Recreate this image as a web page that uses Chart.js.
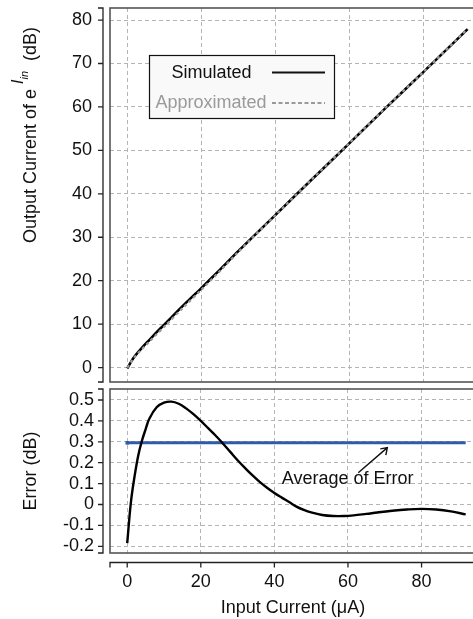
<!DOCTYPE html>
<html>
<head>
<meta charset="utf-8">
<script src="https://cdn.jsdelivr.net/npm/chart.js@4.4.0/dist/chart.umd.min.js"></script>
<style>
  html, body { margin: 0; padding: 0; background: #fff; overflow: hidden; }
  #top { position: absolute; left: 0; top: 0; width: 480px; height: 390px; }
  #bottom { position: absolute; left: 0; top: 385px; width: 480px; height: 234px; }
</style>
</head>
<body>
<div id="top"><canvas id="outChart"></canvas></div>
<div id="bottom"><canvas id="errChart"></canvas></div>
<script>
// input current (uA) for the upper panel
var xOut = [0, 1, 2, 4, 6, 8, 10, 15, 20, 25, 30, 40, 50, 60, 70, 80, 92];
var simulated = [-0.2, 1.3, 2.6, 4.6, 6.4, 8.2, 9.9, 14.2, 18.3, 22.5, 26.8, 35.1, 43.4, 51.6, 59.9, 68.0, 77.9];
var approximated = [-0.02, 1.25, 2.47, 4.29, 5.98, 7.73, 9.41, 13.73, 17.89, 22.19, 26.6, 35.05, 43.44, 51.65, 59.94, 68.02, 77.95];

// error panel
var xErr = [0, 1, 2, 3, 4, 5, 6, 8, 10, 12, 14, 16, 18, 20, 22, 24, 26, 28, 30, 32, 34, 36, 38, 40, 42, 44, 46, 48, 50, 53, 56, 59, 62, 65, 68, 72, 76, 80, 84, 88, 92];
var error = [-0.185, 0.01, 0.135, 0.235, 0.305, 0.36, 0.41, 0.465, 0.487, 0.492, 0.482, 0.46, 0.432, 0.4, 0.365, 0.33, 0.292, 0.252, 0.212, 0.175, 0.14, 0.108, 0.08, 0.055, 0.033, 0.012, -0.01, -0.026, -0.038, -0.05, -0.055, -0.055, -0.051, -0.045, -0.038, -0.03, -0.024, -0.021, -0.024, -0.033, -0.047];
var avgX = [0, 92];
var avgError = [0.295, 0.295];

var FONT = "'Liberation Sans', Arial, Helvetica, sans-serif";
Chart.defaults.font.family = FONT;
Chart.defaults.font.size = 18;
Chart.defaults.color = '#111';

function pts(xs, ys) {
    return xs.map(function (x, i) { return { x: x, y: ys[i] }; });
}

var gridStyle = { color: '#b4b4b4', lineWidth: 1, drawTicks: false };
var dash = [4, 3];

function noPad(s) {
    s.paddingTop = 0; s.paddingBottom = 0;
    s.paddingLeft = 0; s.paddingRight = 0;
}

// box around plot + R-like offset axes
var frame = {
    id: 'frame',
    afterDraw: function (chart, args, opts) {
        var c = chart.ctx, a = chart.chartArea;
        c.save();
        c.strokeStyle = '#555';
        c.lineWidth = 1.6;
        c.strokeRect(a.left, a.top, a.right - a.left, a.bottom - a.top);

        // y axis, set off to the left
        var ys = chart.scales.y, ax = a.left - 7;
        c.strokeStyle = '#222';
        c.lineWidth = 1.3;
        c.beginPath();
        c.moveTo(ax - 5, a.top); c.lineTo(ax, a.top);
        c.lineTo(ax, a.bottom); c.lineTo(ax - 5, a.bottom);
        ys.ticks.forEach(function (t) {
            var py = ys.getPixelForValue(t.value);
            c.moveTo(ax - 5, py); c.lineTo(ax, py);
        });
        c.stroke();

        if (opts.xAxis) {
            var xs = chart.scales.x, ay = a.bottom + 9.5;
            c.beginPath();
            c.moveTo(a.left, ay + 5); c.lineTo(a.left, ay); c.lineTo(a.right, ay);
            xs.ticks.forEach(function (t) {
                var px = xs.getPixelForValue(t.value);
                c.moveTo(px, ay); c.lineTo(px, ay + 5);
            });
            c.stroke();
        }

        // rotated y title
        c.fillStyle = '#111';
        c.translate(opts.titleX, (a.top + a.bottom) / 2 + opts.titleShift);
        c.rotate(-Math.PI / 2);
        c.textBaseline = 'alphabetic';
        var parts = opts.title;
        var total = 0;
        parts.forEach(function (p) { c.font = p.font; total += c.measureText(p.t).width; });
        var x = -total / 2;
        parts.forEach(function (p) {
            c.font = p.font;
            c.fillText(p.t, x, -(p.rise || 0));
            x += c.measureText(p.t).width;
        });
        c.restore();
    }
};

// legend box in upper panel
var legendBox = {
    id: 'legendBox',
    afterDraw: function (chart) {
        var c = chart.ctx;
        c.save();
        c.fillStyle = '#f9f9f9';
        c.fillRect(149.5, 55.5, 185, 63);
        c.strokeStyle = '#111';
        c.lineWidth = 1.2;
        c.strokeRect(149.5, 55.5, 185, 63);
        c.font = '18px ' + FONT;
        c.textBaseline = 'middle';
        c.fillStyle = '#111';
        c.fillText('Simulated', 171.5, 73);
        c.fillStyle = '#9a9a9a';
        c.fillText('Approximated', 155.5, 103.5);
        c.lineWidth = 2.2;
        c.strokeStyle = '#111';
        c.beginPath(); c.moveTo(272, 72.5); c.lineTo(325, 72.5); c.stroke();
        c.strokeStyle = '#9a9a9a';
        c.lineWidth = 1.8;
        c.setLineDash([4, 2.5]);
        c.beginPath(); c.moveTo(272, 103); c.lineTo(325, 103); c.stroke();
        c.restore();
    }
};

// note + arrow in error panel
var note = {
    id: 'note',
    afterDraw: function (chart) {
        var c = chart.ctx, xs = chart.scales.x, ys = chart.scales.y;
        var x0 = xs.getPixelForValue(62.8), y0 = ys.getPixelForValue(0.152);
        var x1 = xs.getPixelForValue(70.7), y1 = ys.getPixelForValue(0.272);
        c.save();
        c.strokeStyle = '#111';
        c.lineWidth = 1.4;
        c.beginPath();
        c.moveTo(x0, y0); c.lineTo(x1, y1);
        c.moveTo(x1 - 7, y1 + 1.2); c.lineTo(x1, y1); c.lineTo(x1 - 1.5, y1 + 7.5);
        c.stroke();
        c.font = '18px ' + FONT;
        c.fillStyle = '#111';
        c.textBaseline = 'alphabetic';
        c.fillText('Average of Error', xs.getPixelForValue(42.0), ys.getPixelForValue(0.1));
        c.restore();
    }
};

var xCommon = {
    type: 'linear',
    min: -4.68,
    max: 94.8,
    border: { display: false, dash: dash },
    grid: gridStyle
};

new Chart(document.getElementById('outChart'), {
    type: 'line',
    data: {
        datasets: [{
            label: 'Approximated',
            data: pts(xOut, approximated),
            borderColor: '#9a9a9a',
            borderWidth: 2.2,
            borderDash: [3, 3],
            pointRadius: 0,
            tension: 0.3,
            order: 0
        }, {
            label: 'Simulated',
            data: pts(xOut, simulated),
            borderColor: '#000',
            borderWidth: 2.6,
            pointRadius: 0,
            tension: 0.3,
            order: 1
        }]
    },
    options: {
        responsive: true,
        maintainAspectRatio: false,
        animation: false,
        layout: { padding: { top: 8, bottom: 8, left: 0, right: 2 } },
        plugins: {
            legend: { display: false },
            tooltip: { enabled: false },
            frame: {
                titleX: 36, titleShift: -60,
                title: [
                    { t: 'Output Current of e', font: '18px ' + FONT },
                    { t: ' I', font: 'italic 17px ' + FONT, rise: 13 },
                    { t: 'in', font: 'italic 11px ' + FONT, rise: 8 },
                    { t: '  (dB)', font: '18px ' + FONT }
                ]
            }
        },
        scales: {
            x: Object.assign({}, xCommon, {
                ticks: { stepSize: 20, includeBounds: false, display: false },
                afterFit: function (s) { s.height = 0; noPad(s); }
            }),
            y: {
                min: -3.32,
                max: 82.77,
                ticks: { stepSize: 10, includeBounds: false, padding: 18, autoSkip: false },
                border: { display: false, dash: dash },
                grid: gridStyle,
                afterFit: function (s) { s.width = 110; noPad(s); }
            }
        }
    },
    plugins: [frame, legendBox]
});

new Chart(document.getElementById('errChart'), {
    type: 'line',
    data: {
        datasets: [{
            label: 'Average',
            data: pts(avgX, avgError),
            borderColor: '#2f5ba8',
            borderWidth: 3,
            pointRadius: [2.5, 0],
            pointStyle: 'rect',
            pointBackgroundColor: '#2f5ba8',
            pointBorderWidth: 0,
            order: 1
        }, {
            label: 'Error',
            data: pts(xErr, error),
            borderColor: '#000',
            borderWidth: 2.4,
            pointRadius: 0,
            tension: 0.4,
            order: 0
        }]
    },
    options: {
        responsive: true,
        maintainAspectRatio: false,
        animation: false,
        layout: { padding: { top: 4, bottom: 0, left: 0, right: 2 } },
        plugins: {
            legend: { display: false },
            tooltip: { enabled: false },
            frame: {
                xAxis: true,
                titleX: 36, titleShift: 0,
                title: [{ t: 'Error (dB)', font: '18px ' + FONT }]
            }
        },
        scales: {
            x: Object.assign({}, xCommon, {
                ticks: { stepSize: 20, includeBounds: false, padding: 18, autoSkip: false },
                title: { display: true, text: 'Input Current (\u03bcA)', padding: { top: 8, bottom: 0 } },
                afterFit: function (s) { s.height = 66; noPad(s); }
            }),
            y: {
                min: -0.232,
                max: 0.5526,
                ticks: {
                    stepSize: 0.1, includeBounds: false, padding: 16, autoSkip: false,
                    callback: function (v) { return String(Math.round(v * 10) / 10); }
                },
                border: { display: false, dash: dash },
                grid: gridStyle,
                afterFit: function (s) { s.width = 110; noPad(s); }
            }
        }
    },
    plugins: [frame, note]
});
</script>
</body>
</html>
